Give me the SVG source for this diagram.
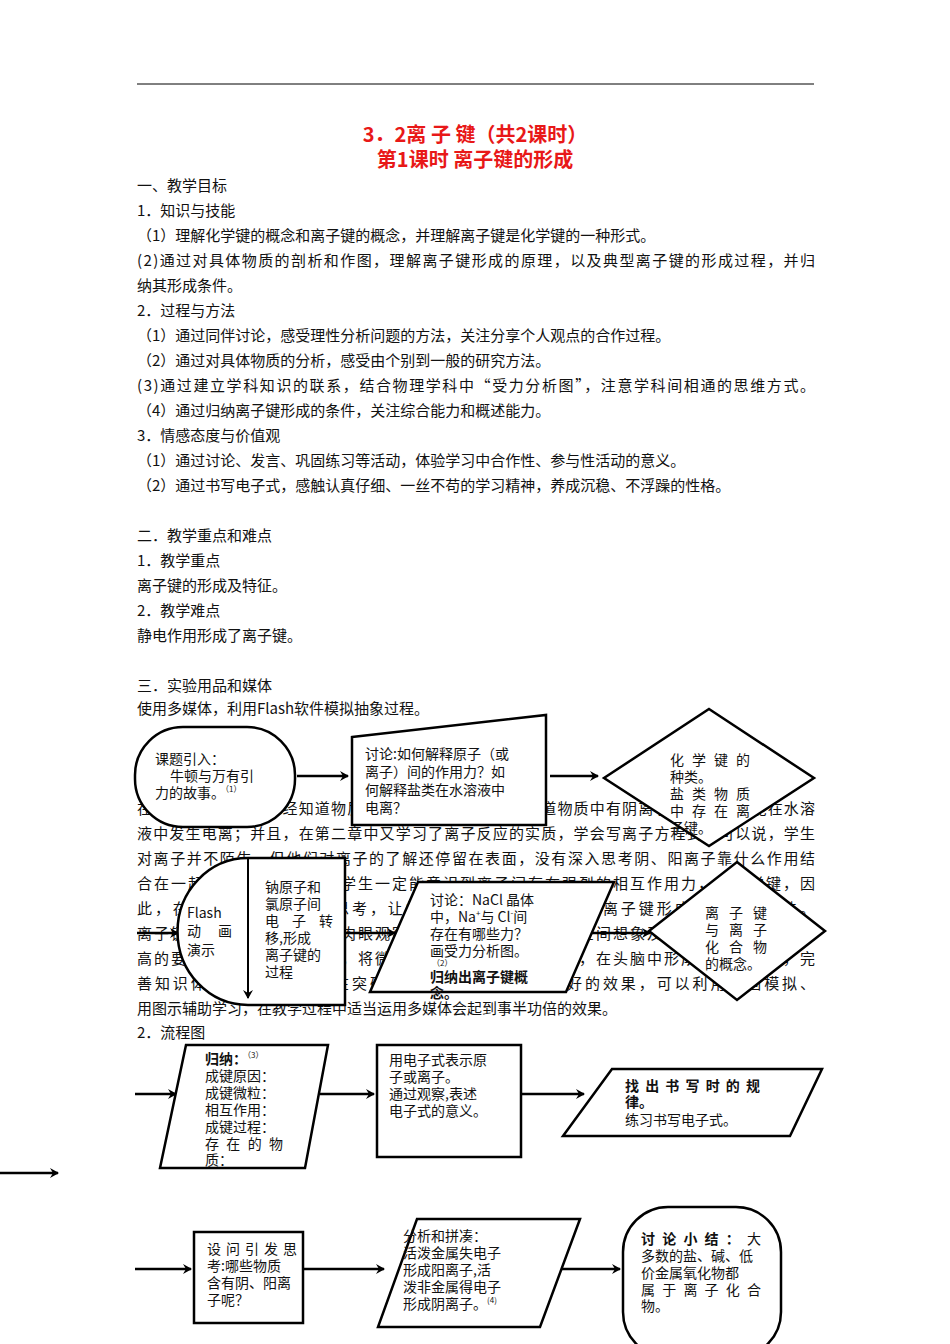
<svg xmlns="http://www.w3.org/2000/svg" width="950" height="1344" viewBox="0 0 950 1344">
<style>
text{font-family:"Noto Sans CJK SC","Liberation Sans",sans-serif;fill:#111}
.b{font-size:15px}
.n{font-size:14px}
.t{font-size:20px;font-weight:bold;fill:#e81818}
.s{fill:#fff;stroke:#000;stroke-width:2.5}
.c line,.c path{stroke:#000;stroke-width:2.5;fill:none}
.bd{font-weight:bold}
.sup{font-size:8px}
</style>
<defs><marker id="a" markerWidth="10" markerHeight="10" refX="8" refY="5" orient="auto" markerUnits="userSpaceOnUse"><path d="M0,0 L9,5 L0,10 L3,5 Z" fill="#000"/></marker></defs>
<rect width="950" height="1344" fill="#fff"/>
<line x1="137" y1="84" x2="814" y2="84" stroke="#000" stroke-width="1"/>
<text class="t" x="475" y="142" text-anchor="middle">3．2离 子 键（共2课时）</text>
<text class="t" x="475" y="167" text-anchor="middle">第1课时  离子键的形成</text>
<g class="b">
<text x="137" y="191">一、教学目标</text>
<text x="137" y="216">1．知识与技能</text>
<text x="137" y="241">（1）理解化学键的概念和离子键的概念，并理解离子键是化学键的一种形式。</text>
<text x="137" y="266" textLength="678" lengthAdjust="spacing">(2)通过对具体物质的剖析和作图，理解离子键形成的原理，以及典型离子键的形成过程，并归</text>
<text x="137" y="291">纳其形成条件。</text>
<text x="137" y="316">2．过程与方法</text>
<text x="137" y="341">（1）通过同伴讨论，感受理性分析问题的方法，关注分享个人观点的合作过程。</text>
<text x="137" y="366">（2）通过对具体物质的分析，感受由个别到一般的研究方法。</text>
<text x="137" y="391" textLength="678" lengthAdjust="spacing">(3)通过建立学科知识的联系，结合物理学科中“受力分析图”，注意学科间相通的思维方式。</text>
<text x="137" y="416">（4）通过归纳离子键形成的条件，关注综合能力和概述能力。</text>
<text x="137" y="441">3．情感态度与价值观</text>
<text x="137" y="466">（1）通过讨论、发言、巩固练习等活动，体验学习中合作性、参与性活动的意义。</text>
<text x="137" y="491">（2）通过书写电子式，感触认真仔细、一丝不苟的学习精神，养成沉稳、不浮躁的性格。</text>
<text x="137" y="541">二．教学重点和难点</text>
<text x="137" y="566">1．教学重点</text>
<text x="137" y="591">离子键的形成及特征。</text>
<text x="137" y="616">2．教学难点</text>
<text x="137" y="641">静电作用形成了离子键。</text>
<text x="137" y="691">三．实验用品和媒体</text>
<text x="137" y="714">使用多媒体，利用Flash软件模拟抽象过程。</text>
<text x="137" y="814" textLength="678" lengthAdjust="spacing">在初中化学中学生已经知道物质由分子原子离子构成，知道物质中有阴离子和阳离子，能在水溶</text>
<text x="137" y="839" textLength="678" lengthAdjust="spacing">液中发生电离；并且，在第二章中又学习了离子反应的实质，学会写离子方程式。可以说，学生</text>
<text x="137" y="864" textLength="678" lengthAdjust="spacing">对离子并不陌生，但他们对离子的了解还停留在表面，没有深入思考阴、阳离子靠什么作用结</text>
<text x="137" y="889" textLength="678" lengthAdjust="spacing">合在一起。通过本节学习，学生一定能意识到离子间存在强烈的相互作用力，即化学键，因</text>
<text x="137" y="914" textLength="678" lengthAdjust="spacing">此，在教学中应引导学生思考，让学生在分析的基础上掌握离子键形成的过程及条件。</text>
<text x="137" y="939" textLength="678" lengthAdjust="spacing">离子键是微观概念，无法用肉眼观察，需要学生具有一定的空间想象及抽象认识，因此有较</text>
<text x="137" y="964" textLength="678" lengthAdjust="spacing">高的要求。通过分析与归纳，将微观的过程用图示表示出来，在头脑中形成清晰的图像，完</text>
<text x="137" y="989" textLength="678" lengthAdjust="spacing">善知识体系。多媒体技术在突破这一难点上可以起到较好的效果，可以利用动画模拟、</text>
<text x="137" y="1014">用图示辅助学习，在教学过程中适当运用多媒体会起到事半功倍的效果。</text>
<text x="137" y="1038">2．流程图</text>
</g>
<g class="c">
<line x1="297" y1="776" x2="348" y2="776" marker-end="url(#a)"/>
<line x1="550" y1="776" x2="598" y2="776" marker-end="url(#a)"/>
<line x1="137" y1="933" x2="178" y2="933" marker-end="url(#a)"/>
<line x1="345" y1="933" x2="395" y2="933" marker-end="url(#a)"/>
<line x1="590" y1="933" x2="650" y2="933" marker-end="url(#a)"/>
<line x1="135" y1="1094" x2="176" y2="1094" marker-end="url(#a)"/>
<line x1="320" y1="1094" x2="374" y2="1094" marker-end="url(#a)"/>
<line x1="521" y1="1094" x2="584" y2="1094" marker-end="url(#a)"/>
<line x1="0" y1="1173" x2="58" y2="1173" marker-end="url(#a)"/>
<line x1="135" y1="1269" x2="191" y2="1269" marker-end="url(#a)"/>
<line x1="303" y1="1269" x2="384" y2="1269" marker-end="url(#a)"/>
<line x1="545" y1="1269" x2="620" y2="1269" marker-end="url(#a)"/>
</g>
<g id="n1"><rect class="s" x="135" y="727" width="160" height="100" rx="48"/>
<text class="n" x="155" y="764">课题引入：</text><text class="n" x="170" y="781">牛顿与万有引</text><text class="n" x="155" y="798">力的故事。<tspan class="sup" dy="-6">（1）</tspan></text></g>
<g id="n2"><polygon class="s" points="352,737 546,715 546,825 352,825"/>
<text class="n" x="365" y="759">讨论:如何解释原子（或</text><text class="n" x="365" y="777">离子）间的作用力？如</text><text class="n" x="365" y="795">何解释盐类在水溶液中</text><text class="n" x="365" y="813">电离？</text></g>
<g id="n3"><polygon class="s" points="709,709 814,778 709,846 604,778"/>
<text class="n" x="670" y="765" textLength="80" lengthAdjust="spacing">化学键的</text><text class="n" x="670" y="782">种类。</text><text class="n" x="670" y="799" textLength="80" lengthAdjust="spacing">盐类物质</text><text class="n" x="670" y="816" textLength="80" lengthAdjust="spacing">中存在离</text><text class="n" x="670" y="833">子键。</text></g>
<g id="n4"><path class="s" d="M248,858 H345 V1005 H248 A70,73 0 0 1 248,858 Z"/>
<line x1="248" y1="858" x2="248" y2="998" stroke="#000" stroke-width="2" marker-end="url(#a)"/>
<text class="n" x="187" y="918">Flash</text><text class="n" x="187" y="936" textLength="45" lengthAdjust="spacing">动画</text><text class="n" x="187" y="955">演示</text>
<text class="n" x="265" y="892">钠原子和</text><text class="n" x="265" y="909">氯原子间</text><text class="n" x="265" y="926" textLength="68" lengthAdjust="spacing">电子转</text><text class="n" x="265" y="943">移,形成</text><text class="n" x="265" y="960">离子键的</text><text class="n" x="265" y="977">过程</text></g>
<g id="n5"><polygon class="s" points="418,882 614,882 566,992 370,992"/>
<text class="n" x="430" y="905">讨论：NaCl 晶体</text><text class="n" x="430" y="922">中，Na<tspan class="sup" dy="-6">+</tspan><tspan dy="6">与 Cl</tspan><tspan class="sup" dy="-6">-</tspan><tspan dy="6">间</tspan></text><text class="n" x="430" y="939">存在有哪些力？</text><text class="n" x="430" y="956">画受力分析图。</text><text class="sup" x="432" y="966">（2）</text>
<text class="n bd" x="430" y="982">归纳出离子键概</text><text class="n bd" x="430" y="998">念。</text></g>
<g id="n6"><polygon class="s" points="737,862 825,931 737,1000 649,931"/>
<text class="n" x="705" y="918" textLength="62" lengthAdjust="spacing">离子键</text><text class="n" x="705" y="935" textLength="62" lengthAdjust="spacing">与离子</text><text class="n" x="705" y="952" textLength="62" lengthAdjust="spacing">化合物</text><text class="n" x="705" y="969">的概念。</text></g>
<g id="n7"><polygon class="s" points="186,1045 328,1045 305,1168 160,1168"/>
<text class="n" x="205" y="1064"><tspan class="bd">归纳：</tspan><tspan class="sup" dy="-6">（3）</tspan></text><text class="n" x="205" y="1081">成键原因：</text><text class="n" x="205" y="1098">成键微粒：</text><text class="n" x="205" y="1115">相互作用：</text><text class="n" x="205" y="1132">成键过程：</text><text class="n" x="205" y="1149" textLength="78" lengthAdjust="spacing">存在的物</text><text class="n" x="205" y="1165">质：</text></g>
<g id="n8"><rect class="s" x="377" y="1045" width="144" height="112"/>
<text class="n" x="389" y="1065">用电子式表示原</text><text class="n" x="389" y="1082">子或离子。</text><text class="n" x="389" y="1099">通过观察,表述</text><text class="n" x="389" y="1116">电子式的意义。</text></g>
<g id="n9"><polygon class="s" points="612,1069 822,1069 790,1136 563,1136"/>
<text class="n bd" x="625" y="1091" textLength="135" lengthAdjust="spacing">找出书写时的规</text><text class="n bd" x="625" y="1107">律。</text><text class="n" x="625" y="1125">练习书写电子式。</text></g>
<g id="n10"><rect class="s" x="194" y="1232" width="109" height="91"/>
<text class="n" x="207" y="1254" textLength="90" lengthAdjust="spacing">设问引发思</text><text class="n" x="207" y="1271">考:哪些物质</text><text class="n" x="207" y="1288">含有阴、阳离</text><text class="n" x="207" y="1305">子呢？</text></g>
<g id="n11"><polygon class="s" points="417,1219 580,1219 540,1327 378,1327"/>
<text class="n" x="403" y="1241">分析和拼凑：</text><text class="n" x="403" y="1258">活泼金属失电子</text><text class="n" x="403" y="1275">形成阳离子,活</text><text class="n" x="403" y="1292">泼非金属得电子</text><text class="n" x="403" y="1309">形成阴离子。<tspan class="sup" dy="-6">(4)</tspan></text></g>
<g id="n12"><rect class="s" x="623" y="1207" width="158" height="150" rx="45"/>
<text class="n" x="641" y="1244" textLength="120" lengthAdjust="spacing"><tspan class="bd">讨论小结：</tspan>大</text><text class="n" x="641" y="1261">多数的盐、碱、低</text><text class="n" x="641" y="1278">价金属氧化物都</text><text class="n" x="641" y="1295" textLength="120" lengthAdjust="spacing">属于离子化合</text><text class="n" x="641" y="1311">物。</text></g>
</svg>
